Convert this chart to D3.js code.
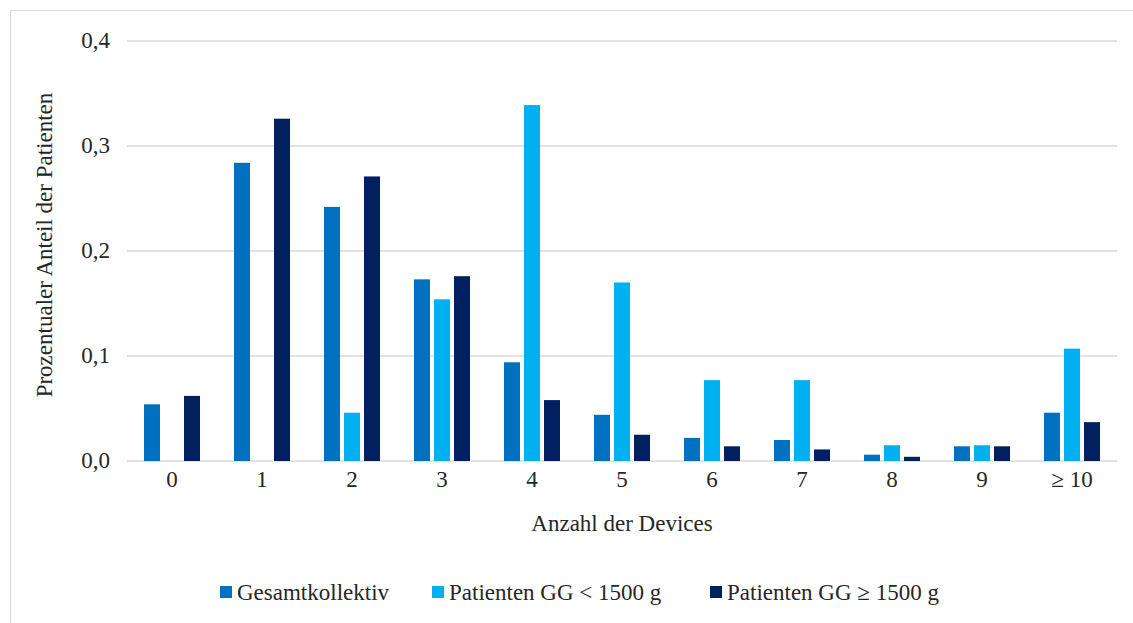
<!DOCTYPE html>
<html><head><meta charset="utf-8">
<script src="https://cdn.jsdelivr.net/npm/d3@7"></script>
<style>body{margin:0;background:#fff}svg{display:block}</style>
</head><body><svg id="c" width="1133" height="623"></svg>
<script>
const categories = ["0","1","2","3","4","5","6","7","8","9","\u2265 10"];
const seriesNames = ["Gesamtkollektiv","Patienten GG < 1500 g","Patienten GG \u2265 1500 g"];
const gesamt =  [0.054,0.284,0.242,0.173,0.094,0.044,0.022,0.020,0.006,0.014,0.046];
const unter1500 = [0,0,0.046,0.154,0.339,0.170,0.077,0.077,0.015,0.015,0.107];
const ueber1500 = [0.062,0.326,0.271,0.176,0.058,0.025,0.014,0.011,0.004,0.014,0.037];
const yTicks = [0,0.1,0.2,0.3,0.4];
const colors = ["#0070C0","#00B0F0","#002060"];
const values = [gesamt, unter1500, ueber1500];

const FONT = "'Liberation Serif', 'Times New Roman', 'DejaVu Serif', serif";
const FS = 23;
const svg = d3.select("#c").attr("font-family", FONT).style("font-family", FONT);
svg.append("rect").attr("x",10.5).attr("y",10.5).attr("width",1140).attr("height",620)
  .attr("fill","none").attr("stroke","#d9d9d9");

const pLeft=127, pRight=1117, pTop=41, pBottom=461;
const x0 = d3.scaleBand().domain(categories).range([pLeft,pRight]);
const x1 = d3.scaleBand().domain(seriesNames).range([0,56]).paddingInner(0.2);
const y = d3.scaleLinear().domain([0,0.4]).range([pBottom,pTop]);
const fmt = d => d3.format(".1f")(d).replace(".",",");
const txt = "#262626";

svg.append("g").selectAll("line").data(yTicks).join("line")
  .attr("x1",pLeft).attr("x2",pRight).attr("y1",d=>y(d)).attr("y2",d=>y(d))
  .attr("stroke","#d9d9d9").attr("stroke-width",1.5);

svg.append("g").selectAll("text").data(yTicks).join("text")
  .attr("x",110).attr("y",d=>y(d)).attr("dy","0.3em").attr("text-anchor","end")
  .attr("font-size",FS).attr("fill",txt).text(fmt);

const off = (x0.bandwidth()-56)/2;
seriesNames.forEach((s,i)=>{
  svg.append("g").selectAll("rect").data(categories).join("rect")
    .attr("x",c=>x0(c)+off+x1(s)).attr("width",x1.bandwidth())
    .attr("y",(c,j)=>y(values[i][j])).attr("height",(c,j)=>y(0)-y(values[i][j]))
    .attr("fill",colors[i]);
});

svg.append("g").selectAll("text").data(categories).join("text")
  .attr("x",c=>x0(c)+x0.bandwidth()/2).attr("y",487).attr("text-anchor","middle")
  .attr("font-size",FS).attr("fill",txt).text(d=>d);

svg.append("text").attr("x",622).attr("y",531).attr("text-anchor","middle")
  .attr("font-size",FS).attr("fill",txt).text("Anzahl der Devices");
svg.append("text").attr("transform","translate(52,245) rotate(-90)").attr("text-anchor","middle")
  .attr("font-size",FS).attr("fill",txt).text("Prozentualer Anteil der Patienten");

const legX = [220,432,710];
const lg = svg.append("g");
seriesNames.forEach((s,i)=>{
  lg.append("rect").attr("x",legX[i]).attr("y",586).attr("width",12).attr("height",12).attr("fill",colors[i]);
  lg.append("text").attr("x",legX[i]+17).attr("y",600).attr("font-size",FS).attr("fill",txt).text(s);
});
</script></body></html>
